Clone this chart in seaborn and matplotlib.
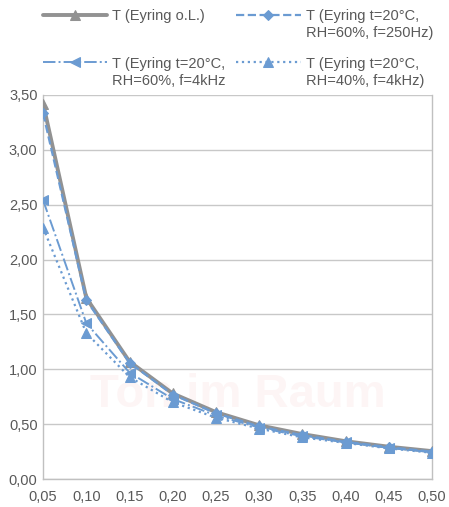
import numpy as np
import pandas as pd
import seaborn as sns
import matplotlib.pyplot as plt

# absorption coefficient (x) and reverberation time T in s
alpha = [0.05, 0.10, 0.15, 0.20, 0.25, 0.30, 0.35, 0.40, 0.45, 0.50]
t_ol = [3.42, 1.65, 1.07, 0.78, 0.61, 0.49, 0.41, 0.345, 0.295, 0.255]
t_250 = [3.33, 1.63, 1.06, 0.77, 0.60, 0.48, 0.40, 0.34, 0.29, 0.25]
t_4k_60 = [2.54, 1.42, 0.97, 0.73, 0.58, 0.47, 0.39, 0.335, 0.285, 0.245]
t_4k_40 = [2.29, 1.33, 0.93, 0.70, 0.56, 0.46, 0.38, 0.33, 0.28, 0.24]

labels = ["T (Eyring o.L.)",
          "T (Eyring t=20°C,\nRH=60%, f=250Hz)",
          "T (Eyring t=20°C,\nRH=60%, f=4kHz",
          "T (Eyring t=20°C,\nRH=40%, f=4kHz)"]

sns.set_style("white")
plt.rcParams['font.family'] = ['Liberation Sans', 'DejaVu Sans']

grey = "#929292"
blue = "#6b9bd2"
txt = "#595959"
fs = 10.5

fig = plt.figure(figsize=(4.49, 5.07), dpi=100)
ax = fig.add_axes([0.096, 0.055, 0.866, 0.758])

# faint watermark
ax.text(0.5, 0.22, "Ton im Raum", transform=ax.transAxes, ha="center", va="center",
        fontsize=34, color="#fdf5f5", fontweight="bold", zorder=0)

series = [
    (t_ol, labels[0], grey, "-", "^", 2.8, 7),
    (t_250, labels[1], blue, "--", "D", 1.6, 5.5),
    (t_4k_60, labels[2], blue, "-.", "<", 1.4, 7),
    (t_4k_40, labels[3], blue, ":", "^", 1.6, 7),
]
for vals, lab, col, ls, mk, lw, ms in series:
    df = pd.DataFrame({"alpha": alpha, "T": vals})
    sns.lineplot(data=df, x="alpha", y="T", ax=ax, color=col, linestyle=ls,
                 marker=mk, markersize=ms, markeredgecolor=col, linewidth=lw,
                 label=lab.split("\n")[0], zorder=3)

ax.set_xlim(0.05, 0.50)
ax.set_ylim(0, 3.5)
ax.set_xticks(alpha)
ax.set_xticklabels([f"{v:.2f}".replace(".", ",") for v in alpha])
yt = np.arange(0, 3.51, 0.5)
ax.set_yticks(yt)
ax.set_yticklabels([f"{v:.2f}".replace(".", ",") for v in yt])
ax.set_xlabel("")
ax.set_ylabel("")
ax.yaxis.grid(True, color="#c8c8c8", linewidth=1)
ax.xaxis.grid(False)
ax.spines["top"].set_visible(False)
for s in ["left", "right", "bottom"]:
    ax.spines[s].set_color("#c0c0c0")
    ax.spines[s].set_linewidth(1)
ax.tick_params(axis="both", labelsize=fs, colors=txt, length=0, pad=4)
ax.tick_params(axis="x", length=4, color="#c0c0c0")

h, l = ax.get_legend_handles_labels()
ax.get_legend().remove()
order = [0, 2, 1, 3]
leg = fig.legend([h[i] for i in order], [l[i] for i in order], ncol=2,
                 loc="upper left", bbox_to_anchor=(43 / 449, 1 - 9 / 507),
                 frameon=False, fontsize=fs, labelcolor=txt, handlelength=4.4,
                 columnspacing=0.75, handletextpad=0.35, labelspacing=2.3,
                 borderpad=0, borderaxespad=0)

# second lines of the multi-line labels, placed under the first lines
fig.canvas.draw()
inv = fig.transFigure.inverted()
for i, t in enumerate(leg.get_texts()):
    full = labels[order[i]]
    if "\n" not in full:
        continue
    bb = t.get_window_extent()
    x0, y0 = inv.transform((bb.x0, bb.y0 - 17))
    fig.text(x0, y0, full.split("\n")[1], fontsize=fs, color=txt,
             ha="left", va="bottom")

fig.savefig("out.png", dpi=100)
